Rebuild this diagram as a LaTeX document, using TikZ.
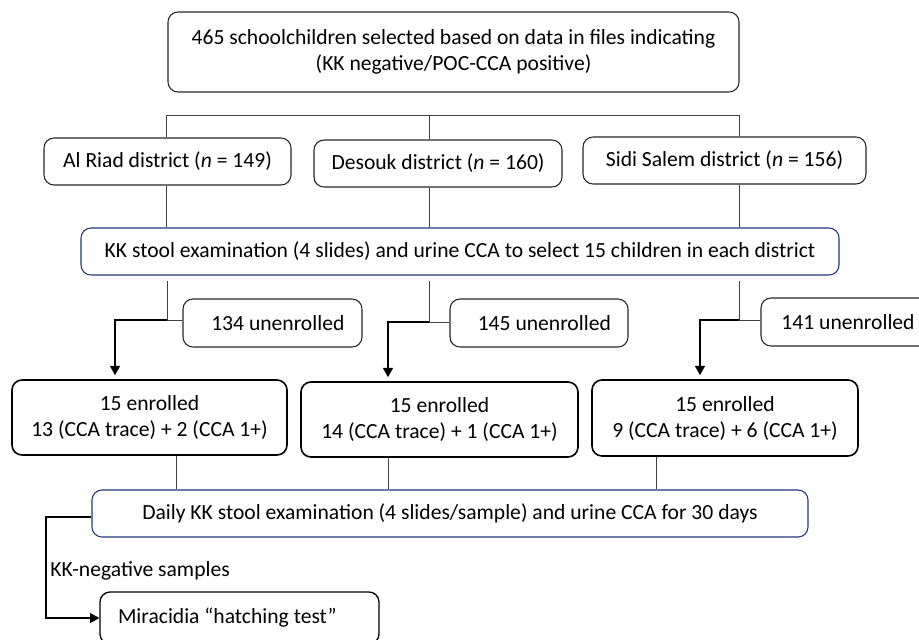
\documentclass[tikz,border=0pt]{standalone}
\usepackage{fontspec}
\setmainfont{Carlito}
\usetikzlibrary{arrows.meta}
\definecolor{navy}{RGB}{32,56,120}
\tikzset{
  fs/.style={font=\fontsize{16.2pt}{19.5pt}\selectfont},
  box/.style={draw=black!85, rounded corners=7.5pt, line width=0.8pt, align=center, inner sep=0pt, fs},
  bluebox/.style={box, draw=navy},
  thickbox/.style={box, draw=black, line width=1.2pt},
  conn/.style={draw=black!75, line width=0.75pt},
  arr/.style={draw=black, line width=1.1pt, -{Triangle[width=7.5pt,length=7pt]}, shorten >=3pt},
}
\begin{document}
\begin{tikzpicture}[x=0.75pt,y=-0.75pt]
\useasboundingbox (0,0) rectangle (919,639);
% boxes
\node[box, minimum width=571*0.75pt, minimum height=80*0.75pt] (top) at (453.5,52)
  {465 schoolchildren selected based on data in files indicating\\(KK negative/POC-CCA positive)};
\node[box, minimum width=247*0.75pt, minimum height=47*0.75pt] (alriad) at (167.5,161.5) {Al Riad district (\textit{n} = 149)};
\node[box, minimum width=248*0.75pt, minimum height=47*0.75pt] (desouk) at (438,163.5) {Desouk district (\textit{n} = 160)};
\node[box, minimum width=283*0.75pt, minimum height=47*0.75pt] (sidi) at (724.5,160.5) {Sidi Salem district (\textit{n} = 156)};
\node[bluebox, minimum width=758*0.75pt, minimum height=47*0.75pt] (kk) at (460,251.5)
  {KK stool examination (4 slides) and urine CCA to select 15 children in each district};
\node[box, minimum width=179*0.75pt, minimum height=48*0.75pt] (un1) at (272.5,323) {\hspace*{8pt}134 unenrolled};
\node[box, minimum width=178*0.75pt, minimum height=48*0.75pt] (un2) at (539,323) {\hspace*{8pt}145 unenrolled};
\node[box, minimum width=174*0.75pt, minimum height=48*0.75pt] (un3) at (848,322) {141 unenrolled};
\node[thickbox, minimum width=275*0.75pt, minimum height=75*0.75pt] (en1) at (149.5,417.5) {15 enrolled\\13 (CCA trace) + 2 (CCA 1+)};
\node[thickbox, minimum width=277*0.75pt, minimum height=75*0.75pt] (en2) at (439.5,419.5) {15 enrolled\\14 (CCA trace) + 1 (CCA 1+)};
\node[thickbox, minimum width=266*0.75pt, minimum height=76*0.75pt] (en3) at (725,418) {15 enrolled\\9 (CCA trace) + 6 (CCA 1+)};
\node[bluebox, minimum width=716*0.75pt, minimum height=47*0.75pt] (daily) at (450,513.5)
  {Daily KK stool examination (4 slides/sample) and urine CCA for 30 days};
\node[thickbox, line width=1pt, minimum width=279*0.75pt, minimum height=52*0.75pt] (mira) at (239.5,618)
  {\makebox[182.25pt][l]{Miracidia “hatching test”}};
\node[fs, anchor=west, inner sep=0pt] (kkneg) at (50,571) {KK-negative samples};
% bracket
\coordinate (b1) at (166,115);
\coordinate (b2) at (429,115);
\coordinate (b3) at (739,115);
\draw[conn] (b1 |- alriad.north) -- (b1) -- (b3) -- (b3 |- sidi.north);
\draw[conn] (b2) -- (b2 |- desouk.north);
% district to kk
\draw[conn] (b1 |- alriad.south) -- (b1 |- kk.north);
\draw[conn] (b2 |- desouk.south) -- (b2 |- kk.north);
\draw[conn] (b3 |- sidi.south) -- (b3 |- kk.north);
% kk to enrolled
\coordinate (j1) at (167,320);
\coordinate (j2) at (429,322);
\coordinate (j3) at (739,320);
\draw[conn] (j1 |- kk.south) ++(0,5) -- (j1);
\draw[conn] (j2 |- kk.south) ++(0,5) -- (j2);
\draw[conn] (j3 |- kk.south) ++(0,5) -- (j3);
\coordinate (a1) at (115,320);
\coordinate (a2) at (388,322);
\coordinate (a3) at (700,320);
\draw[conn] (un1.west |- a1) -- (j1);
\draw[conn] (un2.west |- a2) -- (j2);
\draw[conn] (un3.west |- a3) -- (j3);
\draw[arr] (j1) -- (a1) -- (a1 |- en1.north);
\draw[arr] (j2) -- (a2) -- (a2 |- en2.north);
\draw[arr] (j3) -- (a3) -- (a3 |- en3.north);
% enrolled to daily
\coordinate (d1) at (176,470);
\coordinate (d2) at (388,470);
\coordinate (d3) at (656,470);
\draw[conn] (d1 |- en1.south) -- (d1 |- daily.north);
\draw[conn] (d2 |- en2.south) -- (d2 |- daily.north);
\draw[conn] (d3 |- en3.south) -- (d3 |- daily.north);
% daily to miracidia
\coordinate (c1) at (46,517);
\draw[arr, shorten >=0pt] (daily.west |- c1) -- (c1) |- (mira.west);
\end{tikzpicture}
\end{document}
